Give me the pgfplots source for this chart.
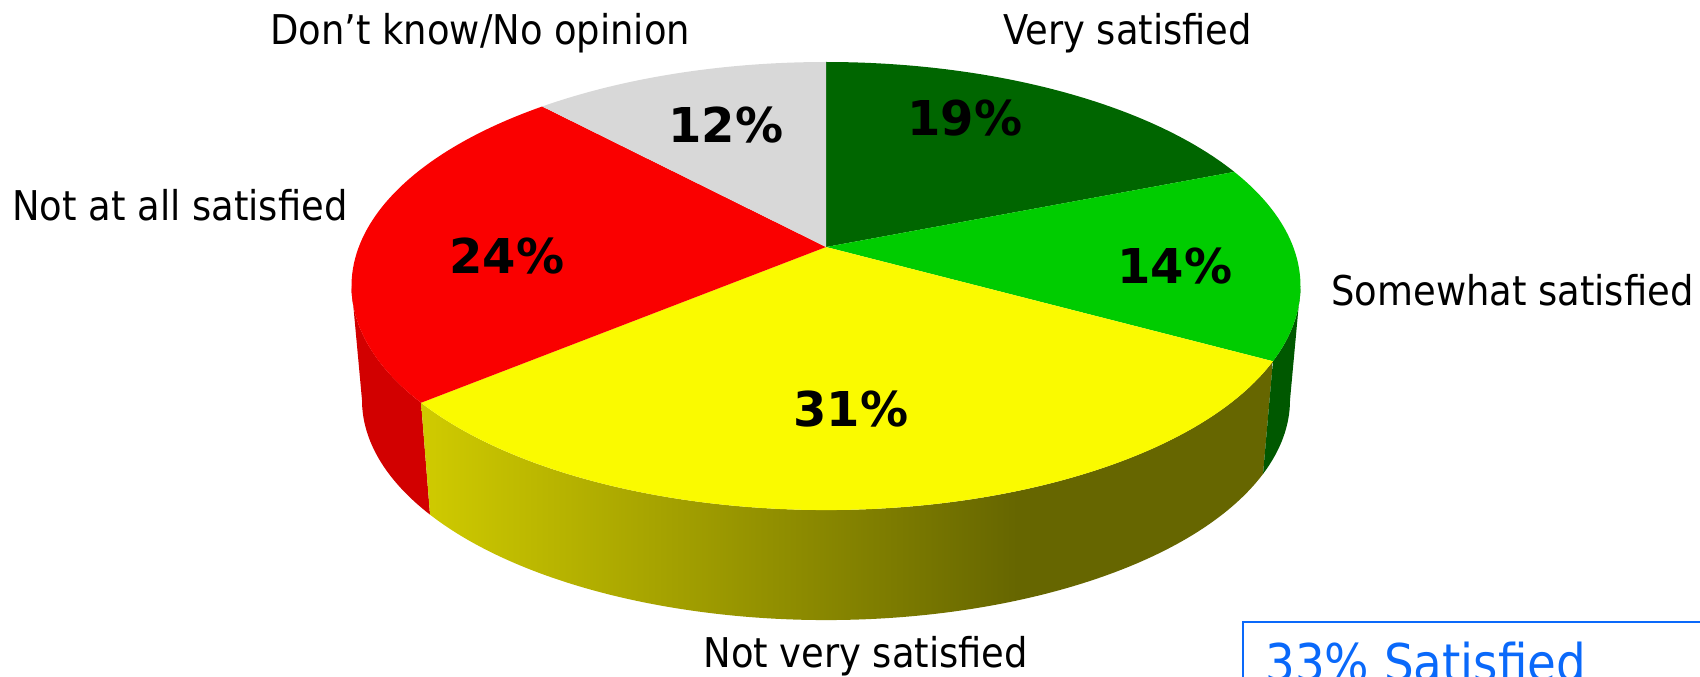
\documentclass[border=0pt]{standalone}
\usepackage{pgfplots}
\pgfplotsset{compat=1.18}
\usepackage{pgfplotstable}
\usepackage{fontspec}
\setmainfont{DejaVu Sans Condensed}
\newfontfamily\pctfont{DejaVu Sans}

\definecolor{vsat}{RGB}{0,102,0}
\definecolor{ssat}{RGB}{0,204,0}
\definecolor{nvsat}{RGB}{250,250,0}
\definecolor{nasat}{RGB}{250,0,0}
\definecolor{dkno}{RGB}{216,216,216}
\definecolor{redside}{RGB}{210,0,0}
\definecolor{greenside}{RGB}{0,88,0}
\definecolor{ysA}{RGB}{208,203,0}
\definecolor{ysB}{RGB}{102,102,0}
\definecolor{boxblue}{RGB}{10,105,250}
\pgfdeclarehorizontalshading{yside}{100bp}{color(0bp)=(ysA); color(25bp)=(ysA); color(60bp)=(ysB); color(100bp)=(ysB)}

% share of answers, clockwise from 12 o'clock
\pgfplotstableread{
slice value
1 19
2 14
3 31
4 24
5 12
}\piedata

\pgfplotstablegetelem{0}{value}\of\piedata\edef\vA{\pgfplotsretval}
\pgfplotstablegetelem{1}{value}\of\piedata\edef\vB{\pgfplotsretval}
\pgfplotstablegetelem{2}{value}\of\piedata\edef\vC{\pgfplotsretval}
\pgfplotstablegetelem{3}{value}\of\piedata\edef\vD{\pgfplotsretval}
\pgfplotstablegetelem{4}{value}\of\piedata\edef\vE{\pgfplotsretval}
% perspective tilt: projected centre sits above the ellipse middle
\def\vv{0.174}
\pgfmathsetmacro\vs{sqrt(1-\vv*\vv)}
\newcommand\rimphi[2]{%
  \pgfmathsetmacro\tmpd{1+\vv*cos(#1)}%
  \pgfmathsetmacro\tmpX{sin(#1)*\vs/\tmpd}%
  \pgfmathsetmacro\tmpY{(cos(#1)+\vv)/\tmpd}%
  \pgfmathsetmacro#2{atan2(\tmpY,\tmpX)}}
\pgfmathsetmacro\tB{3.6*\vA}
\pgfmathsetmacro\tC{3.6*(\vA+\vB)}
\pgfmathsetmacro\tD{3.6*(\vA+\vB+\vC)}
\pgfmathsetmacro\tE{3.6*(\vA+\vB+\vC+\vD)}
\rimphi{0}\pA
\rimphi{\tB}\pB
\rimphi{\tC}\pC
\rimphi{\tD}\pD
\rimphi{\tE}\pE
\pgfmathsetmacro\pB{\pB>\pA ? \pB-360 : \pB}
\pgfmathsetmacro\pC{\pC>\pB ? \pC-360 : \pC}
\pgfmathsetmacro\pD{\pD>\pC ? \pD-360 : \pD}
\pgfmathsetmacro\pE{\pE>\pD ? \pE-360 : \pE}
\pgfmathsetmacro\pF{\pA-360}
\pgfmathsetmacro\sD{\pD+360}
\pgfmathsetmacro\sC{\pC+360}

\newcommand\pieslice[3]{%
  \fill[#1] (axis cs:826,429) -- (axis cs:{826+474.5*cos(#2)},{390+224*sin(#2)})
    arc[start angle=#2, end angle=#3, x radius=237.25pt, y radius=112pt] -- cycle;}
\newcommand\pieside[3]{%
  \path[#1] (axis cs:{826+474.5*cos(#2)},{390+224*sin(#2)})
    arc[start angle=#2, end angle=#3, x radius=237.25pt, y radius=112pt]
    -- (axis cs:{826+464*cos(#3)},{276+220*sin(#3)})
    arc[start angle=#3, end angle=#2, x radius=232pt, y radius=110pt] -- cycle;}

\begin{document}
\begin{tikzpicture}
\begin{axis}[
  name=ax,
  x=0.5pt, y=0.5pt,
  xmin=0, xmax=1700, ymin=0, ymax=676,
  hide axis, disabledatascaling,
]
% sides of the disc
\pieside{fill=redside}{180}{\sD}
\pieside{shading=yside}{\sD}{\sC}
\pieside{fill=greenside}{\sC}{360}
% top face
\pieslice{vsat}{\pA}{\pB}
\pieslice{ssat}{\pB}{\pC}
\pieslice{nvsat}{\pC}{\pD}
\pieslice{nasat}{\pD}{\pE}
\pieslice{dkno}{\pE}{\pF}

% slice labels
\begin{scope}[every node/.style={inner sep=0pt, font=\fontsize{20.5}{24}\selectfont}]
\node[anchor=base west] at (axis cs:270,631) {Don’t know/No opinion};
\node[anchor=base west] at (axis cs:1003,631) {Very satisfied};
\node[anchor=base west] at (axis cs:12,456) {Not at all satisfied};
\node[anchor=base west] at (axis cs:1331,371) {Somewhat satisfied};
\node[anchor=base west] at (axis cs:703,9) {Not very satisfied};
\end{scope}
\begin{scope}[every node/.style={inner sep=0pt, font=\pctfont\fontsize{24}{28}\selectfont\bfseries}]
\node at (axis cs:726,551) {\vE\%};
\node at (axis cs:965,558) {\vA\%};
\node at (axis cs:1175,410) {\vB\%};
\node at (axis cs:507,420) {\vD\%};
\node at (axis cs:851,267) {\vC\%};
\end{scope}
% summary box, cut off by the picture edge
\draw[boxblue, line width=0.65pt] (axis cs:1243,-40) rectangle (axis cs:1760,54);
\node[anchor=base west, inner sep=0pt, text=boxblue, font=\fontsize{26}{30}\selectfont]
  at (axis cs:1265,-5) {33\% Satisfied};
\end{axis}
\pgfresetboundingbox
\useasboundingbox (ax.south west) rectangle (ax.north east);
\end{tikzpicture}
\end{document}
